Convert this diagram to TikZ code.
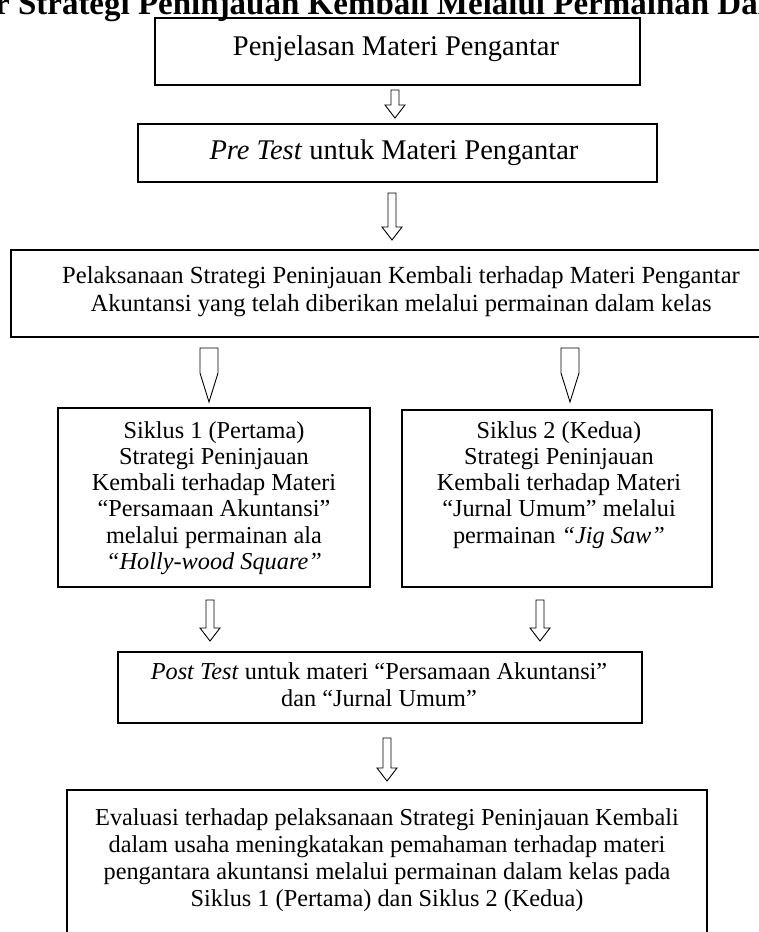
\documentclass[tikz,border=0pt]{standalone}
\usepackage{fontspec}
\setmainfont{Liberation Serif}
\begin{document}
\begin{tikzpicture}[x=1pt,y=-1pt,
  boxframe/.style={draw=black,line width=1.3pt,inner sep=0pt,outer sep=0pt},
  bigtxt/.style={font=\fontsize{28.5}{31}\selectfont,align=center,inner sep=0pt},
  smalltxt/.style={font=\fontsize{24.3}{26.3}\selectfont,align=center,inner sep=0pt},
  arrowline/.style={draw=black,line width=0.9pt,fill=white,line join=miter}]
\useasboundingbox (0,0) rectangle (759,932);
\clip (0,0) rectangle (759,932);
\newcommand\myblockarrow[3]{% x, ytop, ybottom
  \draw[arrowline] (#1-4,#2) -- (#1+4,#2) -- (#1+4,#3-13) -- (#1+10,#3-13) -- (#1,#3) -- (#1-10,#3-13) -- (#1-4,#3-13) -- cycle;}
\newcommand\mypencilarrow[3]{% x, ytop, ybottom
  \draw[arrowline] (#1-9,#2) -- (#1+9,#2) -- (#1+9,#2+25) -- (#1,#3) -- (#1-9,#2+25) -- cycle;}

% title (cut off by the page)
\node[font=\fontsize{33}{35}\bfseries\selectfont,anchor=base,inner sep=0pt] (title) at (381,14) {r Strategi Peninjauan Kembali Melalui Permainan Dal};

% box 1
\node[boxframe,minimum width=485pt,minimum height=67pt] (b1) at (397.5,51.5) {};
\node[bigtxt] (t1) at (396,49) {Penjelasan Materi Pengantar};
\myblockarrow{395}{90}{118}
% box 2
\node[boxframe,minimum width=519pt,minimum height=58pt] (b2) at (397.5,153) {};
\node[bigtxt] (t2) at (394,153) {\textit{Pre Test} untuk Materi Pengantar};
\myblockarrow{392}{193}{240}
% box 3
\node[boxframe,minimum width=780pt,minimum height=87pt] (b3) at (401,293.5) {};
\node[smalltxt,anchor=north,font=\fontsize{24.6}{28}\selectfont] (t3) at (401,266) {Pelaksanaan Strategi Peninjauan Kembali terhadap Materi Pengantar\\Akuntansi yang telah diberikan melalui permainan dalam kelas};
% pencil arrows
\mypencilarrow{209}{348}{402}
\mypencilarrow{570}{348}{402}
% box 4
\node[boxframe,minimum width=312pt,minimum height=179pt] (b4) at (214,497.5) {};
\begin{scope}
\clip (58,408) rectangle (370,577);
\node[smalltxt,anchor=north] (t4) at (214,421) {Siklus 1 (Pertama)\\Strategi Peninjauan\\Kembali terhadap Materi\\“Persamaan Akuntansi”\\melalui permainan ala\\\textit{“Holly-wood Square”}};
\end{scope}
% box 5
\node[boxframe,minimum width=310pt,minimum height=177pt] (b5) at (557,498.5) {};
\node[smalltxt,anchor=north] (t5) at (559,421) {Siklus 2 (Kedua)\\Strategi Peninjauan\\Kembali terhadap Materi\\“Jurnal Umum” melalui\\permainan \textit{“Jig Saw”}};
\myblockarrow{210}{600}{641}
\myblockarrow{540}{600}{641}
% box 6
\node[boxframe,minimum width=524pt,minimum height=71pt] (b6) at (380,687.5) {};
\node[smalltxt,anchor=north,font=\fontsize{24.3}{27}\selectfont] (t6) at (379,662) {\textit{Post Test} untuk materi “Persamaan Akuntansi”\\dan “Jurnal Umum”};
\myblockarrow{387}{738}{781}
% box 7
\node[boxframe,minimum width=640pt,minimum height=170pt] (b7) at (387,875) {};
\node[smalltxt,anchor=north,font=\fontsize{24.3}{27}\selectfont] (t7) at (387,808) {Evaluasi terhadap pelaksanaan Strategi Peninjauan Kembali\\dalam usaha meningkatakan pemahaman terhadap materi\\pengantara akuntansi melalui permainan dalam kelas pada\\Siklus 1 (Pertama) dan Siklus 2 (Kedua)};
\end{tikzpicture}
\end{document}
